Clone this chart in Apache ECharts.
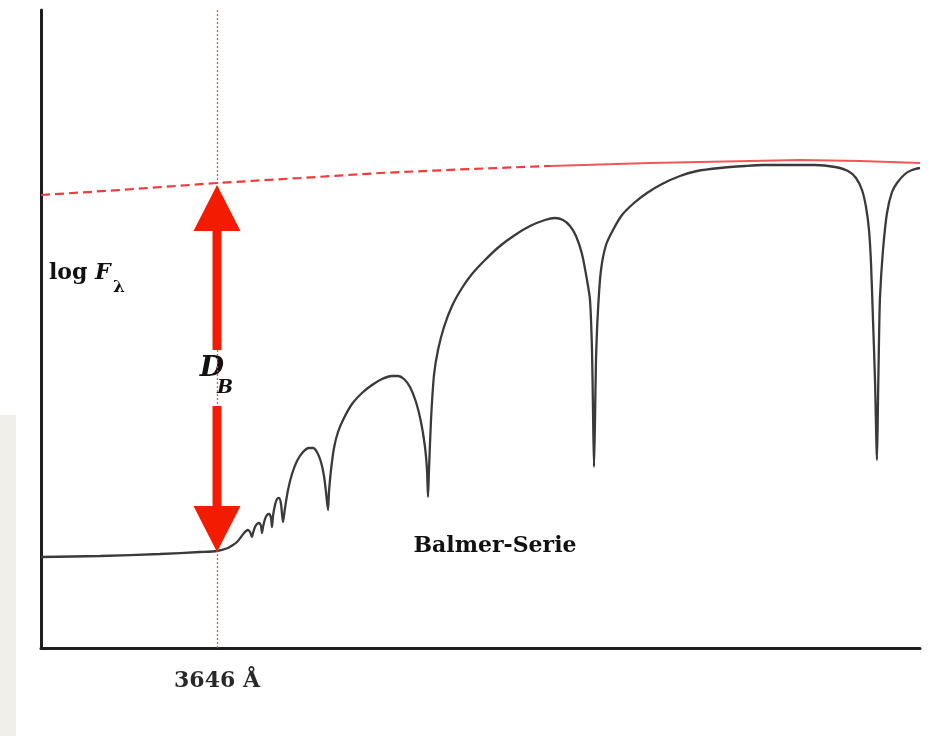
<!DOCTYPE html>
<html>
<head>
<meta charset="utf-8">
<script src="https://cdn.jsdelivr.net/npm/echarts@6/dist/echarts.min.js"></script>
<style>
html,body{margin:0;padding:0;background:#fff;}
#chart{width:940px;height:736px;}
</style>
</head>
<body>
<div id="chart"></div>
<script>
// Arbitrary units: x = wavelength position, y = log F (schematic)
const xRange = [0, 879];
const yRange = [0, 638];
const balmerLimitX = 176;          // position of 3646 Å
const balmerLimitLabel = '3646 Å';

// Continuum (red), dashed part and solid part
const continuumDashed = [[0,453],[79,458],[176,465],[259,470],[339,475],[429,479],[509,482]];
const continuumSolid = [[509,482],[609,485],[709,487],[759,488],[819,487],[879,485]];

// Observed spectrum (black)
const spectrum = [
  [0,91],[59,92],[119,94],[159,96],[176,97],[187,100],[192,103],[196,106],
  [200,111],[203,115],[205,117],[207,118],[209,116],[211,111],
  [212,115],[214,121],[216,124],[218,125],[220,122],[221,115],
  [222,121],[224,129],[226,133],[228,134],[230,130],[231,121],
  [232,132],[234,143],[236,149],[238,150],[240,144],[242,126],
  [244,140],[247,158],[251,174],[256,187],[262,196],[268,200],[272,200],[276,196],[280,186],[283,172],[285,156],[287,138],
  [288,156],[290,178],[293,200],[297,216],[303,230],[311,244],[321,255],[331,263],[341,269],[351,272],[357,272],[363,269],[369,261],[375,246],[380,226],[384,201],[386,178],[387,151],
  [388,178],[390,228],[393,273],[397,298],[403,321],[411,342],[421,360],[431,374],[444,388],[459,402],[474,413],[489,422],[504,428],[514,430],[522,428],[529,422],[535,412],[541,394],[546,368],[549,348],[551,298],[552,238],[553,181],
  [554,228],[555,288],[557,338],[560,378],[565,403],[572,418],[581,433],[593,445],[606,455],[621,464],[639,472],[656,477],[679,480],[704,482],[722,483],[749,483],[774,483],[794,481],[807,477],[815,470],[821,458],[825,441],[828,418],[830,385],[832,328],[834,268],[836,188],
  [837,248],[838,308],[839,351],[842,398],[846,435],[851,456],[856,465],[864,474],[871,478],[879,480]
];

// Double arrow D_B: [x, top tip, gap top, gap bottom, bottom tip]
const arrowDB = [[176, 463, 298, 242, 96]];

const chart = echarts.init(document.getElementById('chart'), null, {renderer: 'canvas'});

const serif = '"DejaVu Serif", "Liberation Serif", serif';

const option = {
  animation: false,
  backgroundColor: '#ffffff',
  grid: {left: 41, right: 20, top: 10, bottom: 88},
  xAxis: {
    type: 'value', min: xRange[0], max: xRange[1],
    axisLine: {show: true, onZero: false, lineStyle: {color: '#1e1e1e', width: 3}},
    axisTick: {show: false}, axisLabel: {show: false}, splitLine: {show: false}
  },
  yAxis: {
    type: 'value', min: yRange[0], max: yRange[1],
    axisLine: {show: true, onZero: false, lineStyle: {color: '#1e1e1e', width: 3}},
    axisTick: {show: false}, axisLabel: {show: false}, splitLine: {show: false}
  },
  graphic: [
    {type: 'rect', z: -10, shape: {x: 0, y: 415, width: 16, height: 321}, style: {fill: '#f1efea'}},
    {type: 'text', x: 49, y: 273, style: {text: 'log', font: 'bold 22px ' + serif, fill: '#111', align: 'left', verticalAlign: 'middle'}},
    {type: 'text', x: 95, y: 273, style: {text: 'F', font: 'italic bold 22px ' + serif, fill: '#111', align: 'left', verticalAlign: 'middle'}},
    {type: 'text', x: 113, y: 288, style: {text: 'λ', font: 'bold 17px ' + serif, fill: '#111', align: 'left', verticalAlign: 'middle'}},
    {type: 'text', x: 212, y: 369, style: {text: 'D', font: 'italic bold 28px ' + serif, fill: '#111', align: 'center', verticalAlign: 'middle'}},
    {type: 'text', x: 225, y: 388, style: {text: 'B', font: 'italic bold 19px ' + serif, fill: '#111', align: 'center', verticalAlign: 'middle'}},
    {type: 'text', x: 495, y: 546, style: {text: 'Balmer-Serie', font: 'bold 22px ' + serif, fill: '#111', align: 'center', verticalAlign: 'middle'}}
  ],
  series: [
    {
      type: 'line', data: continuumDashed, symbol: 'none', z: 3,
      lineStyle: {color: '#ef3b3b', width: 2.2, type: [9, 5]}
    },
    {
      type: 'line', data: continuumSolid, symbol: 'none', z: 3,
      lineStyle: {color: '#f05858', width: 2.2}
    },
    {
      type: 'line', data: spectrum, symbol: 'none', z: 4, smooth: 0.25,
      lineStyle: {color: '#3a3a3a', width: 2.3},
      markLine: {
        silent: true, symbol: 'none', animation: false,
        lineStyle: {color: '#ff3a3a', width: 1.3, type: [2, 2], opacity: 0.9},
        emphasis: {disabled: true},
        label: {
          show: true, position: 'start', distance: 22,
          formatter: balmerLimitLabel,
          color: '#111', fontFamily: 'DejaVu Serif', fontWeight: 'bold', fontSize: 22
        },
        data: [{xAxis: balmerLimitX, lineStyle: {color: '#ff3a3a'}}]
      }
    },
    {
      type: 'custom', data: arrowDB, z: 5,
      encode: {x: 0, y: [1, 4]},
      renderItem: function (params, api) {
        const pTop = api.coord([api.value(0), api.value(1)]);
        const pGapT = api.coord([api.value(0), api.value(2)]);
        const pGapB = api.coord([api.value(0), api.value(3)]);
        const pBot = api.coord([api.value(0), api.value(4)]);
        const cx = pTop[0];
        const hw = 23.5, hl = 46, sw = 4.5;
        const red = '#f41c00';
        return {
          type: 'group',
          children: [
            {type: 'polygon', shape: {points: [[cx, pTop[1]], [cx - hw, pTop[1] + hl], [cx + hw, pTop[1] + hl]]}, style: {fill: red}},
            {type: 'rect', shape: {x: cx - sw, y: pTop[1] + hl - 1, width: 2 * sw, height: pGapT[1] - (pTop[1] + hl) + 1}, style: {fill: red}},
            {type: 'rect', shape: {x: cx - sw, y: pGapB[1], width: 2 * sw, height: (pBot[1] - hl) - pGapB[1] + 1}, style: {fill: red}},
            {type: 'polygon', shape: {points: [[cx, pBot[1]], [cx - hw, pBot[1] - hl], [cx + hw, pBot[1] - hl]]}, style: {fill: red}}
          ]
        };
      }
    }
  ]
};
chart.setOption(option);
</script>
</body>
</html>
